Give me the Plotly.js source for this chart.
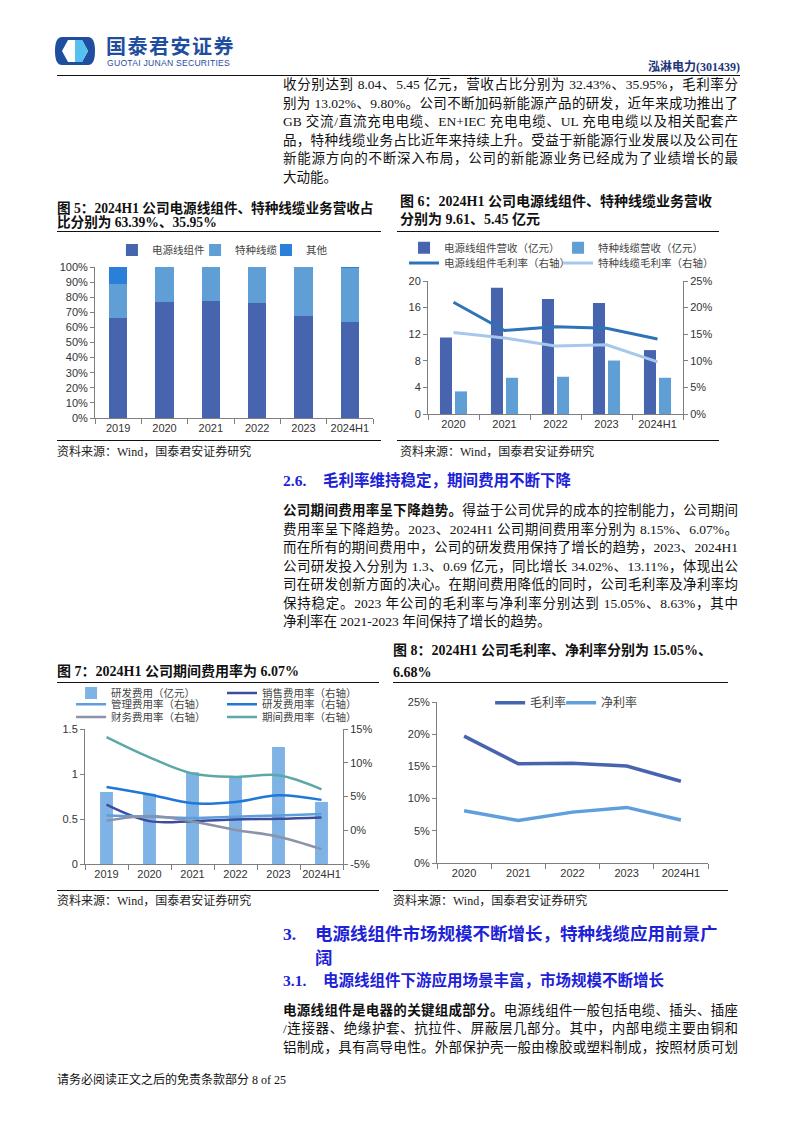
<!DOCTYPE html>
<html><head><meta charset="utf-8">
<script src="https://cdn.plot.ly/plotly-3.0.1.min.js"></script>
<style>
html,body{margin:0;padding:0;background:#fff;}
#page{position:relative;width:794px;height:1123px;overflow:hidden;font-family:"Liberation Serif","Noto Sans CJK SC",serif;color:#111;}
.abs{position:absolute;}
.ln{position:absolute;left:283px;width:455px;font-size:13.5px;line-height:18px;white-space:nowrap;text-align:justify;text-align-last:justify;}
.ln.last{text-align-last:left;}
.ftitle{position:absolute;font-size:14px;font-weight:bold;white-space:nowrap;line-height:16px;}
.rule{position:absolute;height:0;border-top:1.3px solid #111;}
.src{position:absolute;font-size:12px;white-space:nowrap;color:#222;}
.h2{position:absolute;color:#1d22d8;font-weight:bold;white-space:nowrap;}
.chart{position:absolute;}
</style></head>
<body><div id="page">
<!-- header -->
<svg class="abs" style="left:54px;top:36px" width="42" height="30" viewBox="0 0 42 30">
<path d="M8,1 L34,1 Q41,1 41,15 Q41,29 34,29 L8,29 Q1,29 1,15 Q1,1 8,1 Z" fill="#1f4e9e"/>
<polygon points="14,4 28,4 34,15 28,26 14,26 8,15" fill="#ffffff"/>
<polygon points="21,4 28,4 34,15 28,26 21,26" fill="#56c1ee"/>
</svg>
<div class="abs" style="left:106px;top:35px;font-size:20px;font-weight:bold;color:#1f4e9e;font-family:'Noto Sans CJK SC';letter-spacing:1.5px;line-height:22px;">国泰君安证券</div>
<div class="abs" style="left:107px;top:59px;font-size:8.6px;color:#1f4e9e;font-family:'Liberation Sans';letter-spacing:0.25px;line-height:9px;">GUOTAI JUNAN SECURITIES</div>
<div class="abs" style="right:54px;top:60px;font-size:12px;font-weight:bold;color:#23357a;line-height:14px;">泓淋电力(301439)</div>
<div class="rule" style="left:57px;top:75px;width:683px;"></div>

<div class="ln" style="top:76px">收分别达到 8.04、5.45 亿元，营收占比分别为 32.43%、35.95%，毛利率分</div>
<div class="ln" style="top:94.5px">别为 13.02%、9.80%。公司不断加码新能源产品的研发，近年来成功推出了</div>
<div class="ln" style="top:113px">GB 交流/直流充电电缆、EN+IEC 充电电缆、UL 充电电缆以及相关配套产</div>
<div class="ln" style="top:131.5px">品，特种线缆业务占比近年来持续上升。受益于新能源行业发展以及公司在</div>
<div class="ln" style="top:150px">新能源方向的不断深入布局，公司的新能源业务已经成为了业绩增长的最</div>
<div class="ln last" style="top:168.5px">大动能。</div>

<!-- figure 5/6 titles -->
<div class="ftitle" style="left:57px;top:201px;font-size:13.6px;">图 5：2024H1 公司电源线组件、特种线缆业务营收占</div>
<div class="ftitle" style="left:57px;top:215px;font-size:13.6px;">比分别为 63.39%、35.95%</div>
<div class="rule" style="left:57px;top:231px;width:324px;"></div>
<div class="ftitle" style="left:400px;top:194px;">图 6：2024H1 公司电源线组件、特种线缆业务营收</div>
<div class="ftitle" style="left:400px;top:212px;">分别为 9.61、5.45 亿元</div>
<div class="rule" style="left:397px;top:231px;width:322px;"></div>

<div id="c5" class="chart" style="left:57px;top:235px;width:330px;height:205px;"></div>
<div id="c6" class="chart" style="left:397px;top:235px;width:330px;height:205px;"></div>

<div class="rule" style="left:57px;top:440px;width:324px;"></div>
<div class="src" style="left:57px;top:442px;">资料来源：Wind，国泰君安证券研究</div>
<div class="rule" style="left:397px;top:440px;width:322px;"></div>
<div class="src" style="left:400px;top:442px;">资料来源：Wind，国泰君安证券研究</div>

<div class="h2" style="left:283px;top:472px;font-size:15.5px;line-height:18px;">2.6.</div>
<div class="h2" style="left:323px;top:472px;font-size:15.5px;line-height:18px;">毛利率维持稳定，期间费用不断下降</div>

<div class="ln" style="top:502px"><b>公司期间费用率呈下降趋势。</b>得益于公司优异的成本的控制能力，公司期间</div>
<div class="ln" style="top:520.5px">费用率呈下降趋势。2023、2024H1 公司期间费用率分别为 8.15%、6.07%。</div>
<div class="ln" style="top:539px">而在所有的期间费用中，公司的研发费用保持了增长的趋势，2023、2024H1</div>
<div class="ln" style="top:557.5px">公司研发投入分别为 1.3、0.69 亿元，同比增长 34.02%、13.11%，体现出公</div>
<div class="ln" style="top:576px">司在研发创新方面的决心。在期间费用降低的同时，公司毛利率及净利率均</div>
<div class="ln" style="top:594.5px">保持稳定。2023 年公司的毛利率与净利率分别达到 15.05%、8.63%，其中</div>
<div class="ln last" style="top:613px">净利率在 2021-2023 年间保持了增长的趋势。</div>

<!-- figure 7/8 titles -->
<div class="ftitle" style="left:57px;top:664px;">图 7：2024H1 公司期间费用率为 6.07%</div>
<div class="rule" style="left:57px;top:682px;width:322px;"></div>
<div class="ftitle" style="left:393px;top:643px;">图 8：2024H1 公司毛利率、净利率分别为 15.05%、</div>
<div class="ftitle" style="left:393px;top:665px;">6.68%</div>
<div class="rule" style="left:393px;top:682px;width:335px;"></div>

<div id="c7" class="chart" style="left:57px;top:685px;width:330px;height:205px;"></div>
<div id="c8" class="chart" style="left:392px;top:685px;width:340px;height:205px;"></div>

<div class="rule" style="left:57px;top:890px;width:322px;"></div>
<div class="src" style="left:57px;top:891px;">资料来源：Wind，国泰君安证券研究</div>
<div class="rule" style="left:393px;top:890px;width:335px;"></div>
<div class="src" style="left:393px;top:891px;">资料来源：Wind，国泰君安证券研究</div>

<div class="h2" style="left:283px;top:923px;font-size:17.5px;line-height:22px;">3.</div>
<div class="h2" style="left:315px;top:923px;font-size:17.5px;line-height:22px;">电源线组件市场规模不断增长，特种线缆应用前景广</div>
<div class="h2" style="left:315px;top:947px;font-size:17.5px;line-height:22px;">阔</div>
<div class="h2" style="left:283px;top:972px;font-size:15.5px;line-height:18px;">3.1.</div>
<div class="h2" style="left:323px;top:972px;font-size:15.5px;line-height:18px;">电源线组件下游应用场景丰富，市场规模不断增长</div>

<div class="ln" style="top:1001.5px"><b>电源线组件是电器的关键组成部分。</b>电源线组件一般包括电缆、插头、插座</div>
<div class="ln" style="top:1020px">/连接器、绝缘护套、抗拉件、屏蔽层几部分。其中，内部电缆主要由铜和</div>
<div class="ln" style="top:1038.5px">铝制成，具有高导电性。外部保护壳一般由橡胶或塑料制成，按照材质可划</div>

<div class="abs" style="left:57px;top:1070px;font-size:12px;white-space:nowrap;">请务必阅读正文之后的免责条款部分 8 of 25</div>
</div>

<script>
// ---------- data ----------
const years5 = ['2019','2020','2021','2022','2023','2024H1'];
const powerShare = [66.0, 77.0, 77.5, 76.0, 67.5, 63.39];
const specialShare = [22.5, 23.0, 22.5, 24.0, 32.5, 35.95];
const otherShare = [11.5, 0, 0, 0, 0, 0.66];

const years6 = ['2020','2021','2022','2023','2024H1'];
const powerRev = [11.5, 19.0, 17.3, 16.7, 9.61];
const specialRev = [3.4, 5.45, 5.6, 8.04, 5.45];
const powerGM = [21.0, 15.7, 16.4, 16.1, 14.1];
const specialGM = [15.3, 14.3, 12.8, 13.02, 9.80];

const years7 = ['2019','2020','2021','2022','2023','2024H1'];
const rdExpense = [0.80, 0.78, 1.02, 0.97, 1.30, 0.69];
const salesRate = [3.8, 1.35, 1.35, 1.6, 1.7, 1.9];
const adminRate = [2.2, 2.0, 1.8, 2.0, 2.2, 2.4];
const rdRate = [6.4, 5.3, 4.0, 4.2, 5.2, 4.5];
const finRate = [1.4, 2.1, 1.3, 0.05, -0.95, -2.8];
const periodRate = [13.8, 10.8, 8.4, 7.9, 8.15, 6.07];
const rightTickVals7 = [-5, 0, 5, 10, 15];
const rightTickText7 = ['-5%', '0%', '5%', '10%', '15%'];

const years8 = ['2020','2021','2022','2023','2024H1'];
const grossMargin = [19.7, 15.4, 15.5, 15.05, 12.7];
const netMargin = [8.1, 6.6, 7.9, 8.63, 6.68];

// ---------- common ----------
const FAM = '"Liberation Sans","Noto Sans CJK SC",sans-serif';
const FONT = {family:FAM, size:11, color:'#333'};
const LFONT = {family:FAM, size:10.5, color:'#444'};
const AX = '#7f7f7f';
const cfg = {staticPlot:true, displayModeBar:false, responsive:false};
function xcat(o){ return Object.assign({type:'category', showline:true, linecolor:AX, linewidth:1, ticks:'outside', tickson:'boundaries', ticklen:5, tickcolor:AX, showgrid:false, zeroline:false, tickfont:FONT, tickangle:0}, o||{}); }
function yax(o){ return Object.assign({showline:true, linecolor:AX, linewidth:1, ticks:'outside', ticklen:4, tickcolor:AX, showgrid:false, zeroline:false, tickfont:FONT}, o); }
function leg(x, y, f){ return {x:x, y:y, xanchor:'left', yanchor:'middle', orientation:'h', font:f||LFONT, bgcolor:'rgba(0,0,0,0)', borderwidth:0}; }

// ---------- chart 5 ----------
Plotly.newPlot('c5', [
  {type:'bar', name:'电源线组件', x:years5, y:powerShare, marker:{color:'#4764ae'}, legend:'legend'},
  {type:'bar', name:'特种线缆', x:years5, y:specialShare, marker:{color:'#609ed6'}, legend:'legend2'},
  {type:'bar', name:'其他', x:years5, y:otherShare, marker:{color:'#2a7fd9'}, legend:'legend3'}
], {
  width:330, height:205, margin:{l:38, r:14, t:32, b:22, autoexpand:false},
  barmode:'stack', bargap:0.6, font:FONT,
  paper_bgcolor:'#fff', plot_bgcolor:'#fff',
  xaxis:xcat(),
  yaxis:yax({range:[0,100], dtick:10, ticksuffix:'%'}),
  showlegend:true,
  legend:leg(0.061, 1.113), legend2:leg(0.36, 1.113), legend3:leg(0.615, 1.113)
}, cfg);

// ---------- chart 6 ----------
Plotly.newPlot('c6', [
  {type:'bar', name:'电源线组件营收（亿元）', x:years6, y:powerRev, marker:{color:'#4764ae'}, legend:'legend'},
  {type:'bar', name:'特种线缆营收（亿元）', x:years6, y:specialRev, marker:{color:'#609ed6'}, legend:'legend2'},
  {type:'scatter', mode:'lines', name:'电源线组件毛利率（右轴）', x:years6, y:powerGM, yaxis:'y2', line:{color:'#2e72b8', width:3}, legend:'legend3'},
  {type:'scatter', mode:'lines', name:'特种线缆毛利率（右轴）', x:years6, y:specialGM, yaxis:'y2', line:{color:'#a6c8ec', width:3}, legend:'legend4'}
], {
  width:330, height:205, margin:{l:31, r:44, t:46, b:26, autoexpand:false},
  barmode:'group', bargap:0.41, bargroupgap:0.2, font:FONT,
  paper_bgcolor:'#fff', plot_bgcolor:'#fff',
  xaxis:xcat(),
  yaxis:yax({range:[0,20], dtick:4}),
  yaxis2:yax({range:[0,25], dtick:5, ticksuffix:'%', overlaying:'y', side:'right'}),
  showlegend:true,
  legend:leg(-0.094, 1.25), legend2:leg(0.51, 1.25),
  legend3:leg(-0.094, 1.135), legend4:leg(0.51, 1.135)
}, cfg);

// ---------- chart 7 ----------
Plotly.newPlot('c7', [
  {type:'bar', name:'研发费用（亿元）', x:years7, y:rdExpense, marker:{color:'#7fb3e6'}, legend:'legend'},
  {type:'scatter', mode:'lines', name:'销售费用率（右轴）', x:years7, y:salesRate, yaxis:'y2', line:{color:'#3d4d9e', width:2.5, shape:'spline'}, legend:'legend2'},
  {type:'scatter', mode:'lines', name:'管理费用率（右轴）', x:years7, y:adminRate, yaxis:'y2', line:{color:'#5d9edb', width:2.5, shape:'spline'}, legend:'legend3'},
  {type:'scatter', mode:'lines', name:'研发费用率（右轴）', x:years7, y:rdRate, yaxis:'y2', line:{color:'#1f77d8', width:2.5, shape:'spline'}, legend:'legend4'},
  {type:'scatter', mode:'lines', name:'财务费用率（右轴）', x:years7, y:finRate, yaxis:'y2', line:{color:'#8a93ab', width:2.5, shape:'spline'}, legend:'legend5'},
  {type:'scatter', mode:'lines', name:'期间费用率（右轴）', x:years7, y:periodRate, yaxis:'y2', line:{color:'#5aa9a6', width:2.5, shape:'spline'}, legend:'legend6'}
], {
  width:330, height:205, margin:{l:28, r:44, t:44, b:26, autoexpand:false},
  bargap:0.7, font:FONT,
  paper_bgcolor:'#fff', plot_bgcolor:'#fff',
  xaxis:xcat(),
  yaxis:yax({range:[0,1.5], dtick:0.5}),
  yaxis2:yax({range:[-5,15], tickvals:rightTickVals7, ticktext:rightTickText7, overlaying:'y', side:'right'}),
  showlegend:true,
  legend:leg(-0.054, 1.267), legend2:leg(0.531, 1.267),
  legend3:leg(-0.054, 1.183), legend4:leg(0.531, 1.183),
  legend5:leg(-0.054, 1.089), legend6:leg(0.531, 1.089)
}, cfg);

// ---------- chart 8 ----------
const LF8 = {family:FAM, size:12, color:'#444'};
Plotly.newPlot('c8', [
  {type:'scatter', mode:'lines', name:'毛利率', x:years8, y:grossMargin, line:{color:'#4764ae', width:3.5}, legend:'legend'},
  {type:'scatter', mode:'lines', name:'净利率', x:years8, y:netMargin, line:{color:'#5f9fdc', width:3.5}, legend:'legend2'}
], {
  width:340, height:205, margin:{l:45, r:24, t:17, b:27, autoexpand:false},
  font:FONT, paper_bgcolor:'#fff', plot_bgcolor:'#fff',
  xaxis:xcat({range:[-0.5, years8.length - 0.5]}),
  yaxis:yax({range:[0,25], dtick:5, ticksuffix:'%'}),
  showlegend:true,
  legend:leg(0.196, 0.995, LF8), legend2:leg(0.458, 0.995, LF8)
}, cfg);
</script>
</body></html>
